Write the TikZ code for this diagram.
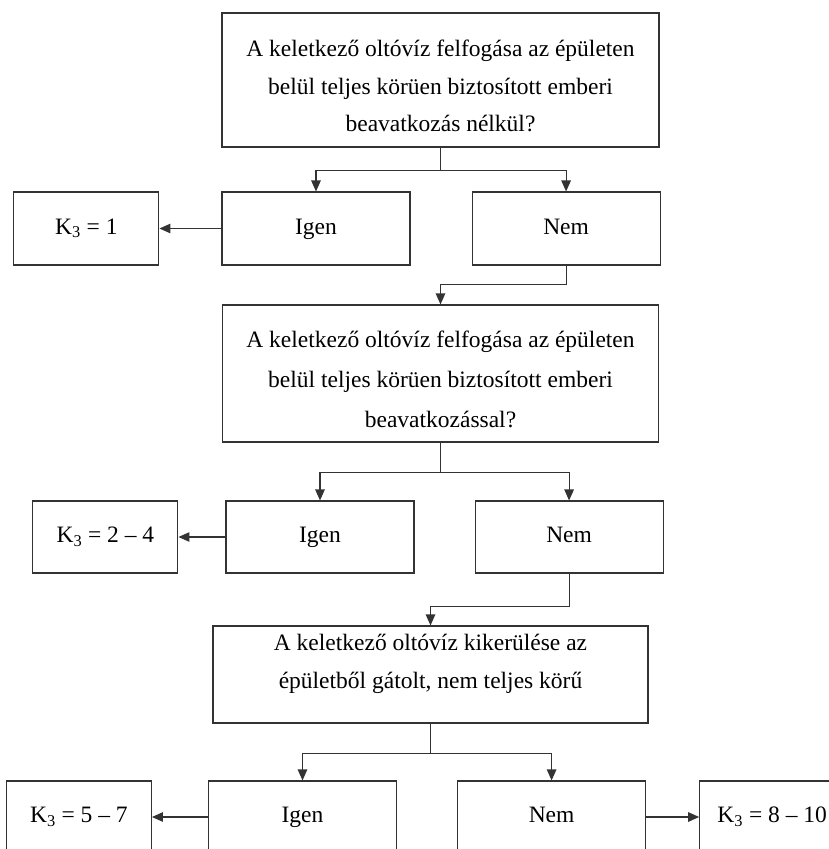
\documentclass[tikz,border=0pt]{standalone}
\usepackage{fontspec}
\setmainfont{Liberation Serif}
\usepackage{xcolor}
\usepackage{tikz}
\usetikzlibrary{arrows.meta, positioning}
\definecolor{FC_LINE}{HTML}{333333}
\tikzset{
  qbox/.style={
    rectangle, minimum width=437pt, minimum height=134pt,
    inner sep=2pt, text centered, align=center,
    draw=FC_LINE, line width=1.1pt,
    font=\fontsize{23.5pt}{37.5pt}\selectfont},
  ans/.style={
    rectangle, minimum width=188pt, minimum height=73pt,
    inner sep=2pt, text centered, text height=16pt, text depth=5pt,
    draw=FC_LINE, line width=1.1pt,
    font=\fontsize{23.5pt}{28pt}\selectfont},
  kbox/.style={ans, minimum width=145pt},
  arr/.style={-{Triangle[length=11pt,width=9.5pt]}, line width=1.1pt, color=FC_LINE},
}

\begin{document}
\begin{tikzpicture}[x=1pt, y=1pt]

  \useasboundingbox (0,0) rectangle (829,-849);
  \clip (0,0) rectangle (829,-849);

  % first question
  \node[qbox] (q1) at (440.5,-80)
    {\rule{0pt}{29pt}A keletkező oltóvíz felfogása az épületen\\
     belül teljes körüen biztosított emberi\\
     beavatkozás nélkül?};
  \node[ans] (i1) at (316,-228.5) {Igen};
  \node[ans, right=61pt of i1] (n1) {Nem};
  \node[kbox, left=62pt of i1] (k1) {K\textsubscript{3} = 1};

  % second question
  \node[qbox, minimum width=436pt, minimum height=137pt,
    font=\fontsize{23.5pt}{40pt}\selectfont] (q2) at (440.5,-373.5)
    {\rule{0pt}{29pt}A keletkező oltóvíz felfogása az épületen\\
     belül teljes körüen biztosított emberi\\
     beavatkozással?};
  \node[ans, minimum height=72pt] (i2) at (320,-537) {Igen};
  \node[ans, minimum height=72pt, right=60pt of i2] (n2) {Nem};
  \node[kbox, minimum height=72pt, left=47pt of i2] (k2) {K\textsubscript{3} = 2 – 4};

  % third question
  \node[qbox, minimum width=435pt, minimum height=97pt,
    font=\fontsize{23.5pt}{38pt}\selectfont] (q3) at (430.5,-674.5)
    {\rule{0pt}{17pt}A keletkező oltóvíz kikerülése az\\
     épületből gátolt, nem teljes körű\rule[-27pt]{0pt}{27pt}};
  \node[ans, minimum height=72pt] (i3) at (302.5,-817) {Igen};
  \node[ans, minimum height=72pt, right=60pt of i3] (n3) {Nem};
  \node[kbox, minimum height=72pt, left=56pt of i3] (k3a) {K\textsubscript{3} = 5 – 7};
  \node[kbox, minimum height=72pt, right=53pt of n3] (k3b) {K\textsubscript{3} = 8 – 10};

  \draw[arr] (q1.south) -- ++(0,-23) -| (i1.north);
  \draw[arr] (q1.south) -- ++(0,-23) -| (n1.north);
  \draw[arr] (i1.west) -- (k1.east);
  \draw[arr] (n1.south) -- ++(0,-19) -| (q2.north);

  \draw[arr] (q2.south) -- ++(0,-30) -| (i2.north);
  \draw[arr] (q2.south) -- ++(0,-30) -| (n2.north);
  \draw[arr] (i2.west) -- (k2.east);
  \draw[arr] (n2.south) -- ++(0,-33) -| (q3.north);

  \draw[arr] (q3.south) -- ++(0,-30) -| (i3.north);
  \draw[arr] (q3.south) -- ++(0,-30) -| (n3.north);
  \draw[arr] (i3.west) -- (k3a.east);
  \draw[arr] (n3.east) -- (k3b.west);

\end{tikzpicture}
\end{document}
